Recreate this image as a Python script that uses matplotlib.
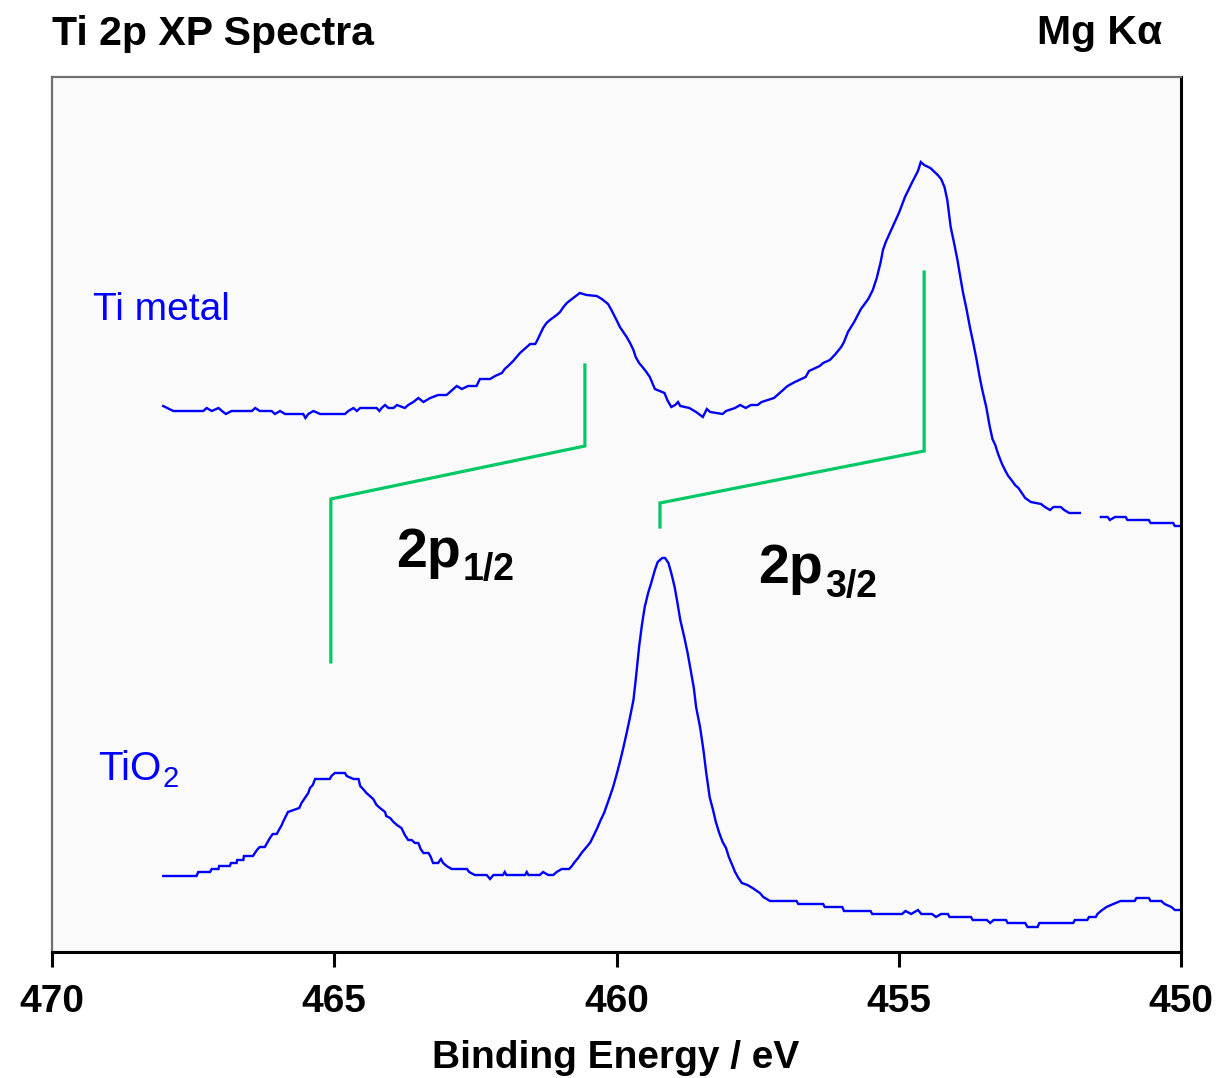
import numpy as np
import matplotlib
matplotlib.use("Agg")
import matplotlib.pyplot as plt

plt.rcParams['font.family'] = ['Liberation Sans', 'DejaVu Sans']

# Ti metal spectrum: binding energy (eV) and intensity (arb. units); NaN = missing readings
ti_metal_ev = [468.03, 467.85, 467.32, 467.26, 467.17, 467.05, 466.99, 466.92, 466.82, 466.46,
               466.40, 466.32, 466.11, 466.05, 465.96, 465.87, 465.55, 465.51, 465.46, 465.37,
               465.25, 464.81, 464.75, 464.66, 464.60, 464.54, 464.25, 464.20, 464.16, 464.10,
               464.04, 463.95, 463.89, 463.75, 463.69, 463.60, 463.51, 463.42, 463.30, 463.16,
               463.01, 462.95, 462.83, 462.74, 462.63, 462.48, 462.42, 462.24, 462.15, 462.03,
               461.98, 461.92, 461.83, 461.71, 461.59, 461.53, 461.44, 461.41, 461.36, 461.30,
               461.24, 461.18, 461.06, 461.00, 460.94, 460.88, 460.79, 460.65, 460.53, 460.35,
               460.26, 460.15, 460.09, 460.00, 459.94, 459.88, 459.82, 459.76, 459.70, 459.66,
               459.60, 459.54, 459.47, 459.41, 459.32, 459.15, 459.10, 459.03, 458.96, 458.91,
               458.87, 458.71, 458.59, 458.47, 458.40, 458.34, 458.12, 458.06, 457.90, 457.81,
               457.71, 457.62, 457.50, 457.43, 457.21, 457.09, 456.97, 456.84, 456.65, 456.59,
               456.40, 456.34, 456.22, 456.12, 456.02, 455.97, 455.90, 455.79, 455.67, 455.54,
               455.46, 455.39, 455.32, 455.28, 455.23, 455.11, 454.99, 454.89, 454.76, 454.66,
               454.61, 454.55, 454.44, 454.31, 454.25, 454.19, 454.14, 454.08, 454.02, 453.96,
               453.91, 453.86, 453.80, 453.74, 453.68, 453.62, 453.57, 453.52, 453.45, 453.39,
               453.34, 453.29, 453.24, 453.17, 453.11, 453.06, 452.99, 452.94, 452.88, 452.82,
               452.76, 452.66, 452.48, 452.41, 452.32, 452.26, 452.13, 452.07, 451.98, 451.79,
               451.60, 451.42, 451.30, 451.26, 451.17, 450.98, 450.95, 450.57, 450.54, 450.14,
               450.11, 450.00]
ti_metal_counts = [546, 541, 541, 544, 541, 544, 541, 538, 541, 541,
                   544, 541, 541, 538, 541, 538, 538, 534, 538, 541,
                   538, 538, 541, 544, 541, 544, 544, 541, 544, 547,
                   544, 544, 547, 544, 547, 550, 554, 550, 554, 557,
                   557, 560, 566, 563, 566, 566, 573, 573, 576, 579,
                   583, 586, 591, 599, 605, 608, 608, 611, 617, 624,
                   629, 632, 637, 640, 645, 649, 653, 659, 657, 656,
                   653, 648, 642, 632, 625, 620, 615, 609, 602, 595,
                   589, 585, 580, 575, 563, 559, 552, 545, 547, 550,
                   546, 544, 540, 535, 543, 540, 538, 541, 544, 547,
                   544, 547, 547, 550, 554, 560, 566, 570, 575, 581,
                   586, 589, 592, 598, 605, 610, 620, 630, 643, 653,
                   662, 674, 690, 702, 710, 725, 740, 755, 770, 781,
                   790, 787, 784, 777, 773, 765, 752, 725, 709, 692,
                   675, 659, 643, 625, 609, 592, 576, 562, 545, 526,
                   513, 507, 498, 488, 481, 476, 471, 467, 464, 459,
                   454, 450, 448, 445, 442, 445, 445, 442, 439, 439,
                   np.nan, 435, 435, 432, 435, 435, 432, 432, 429, 429,
                   426, 426]

# TiO2 spectrum
tio2_ev = [468.03, 467.44, 467.41, 467.20, 467.17, 467.05, 467.04, 466.85, 466.83, 466.73,
           466.72, 466.61, 466.60, 466.44, 466.37, 466.32, 466.23, 466.14, 466.09, 466.02,
           465.93, 465.90, 465.82, 465.62, 465.58, 465.52, 465.46, 465.43, 465.38, 465.34,
           465.08, 465.05, 464.99, 464.81, 464.78, 464.66, 464.57, 464.54, 464.49, 464.43,
           464.37, 464.31, 464.25, 464.19, 464.10, 464.08, 464.01, 463.95, 463.89, 463.81,
           463.75, 463.69, 463.63, 463.57, 463.51, 463.47, 463.42, 463.33, 463.29, 463.25,
           463.16, 463.11, 463.07, 463.01, 462.92, 462.65, 462.61, 462.51, 462.30, 462.24,
           462.18, 462.01, 461.98, 461.95, 461.62, 461.59, 461.56, 461.36, 461.30, 461.21,
           461.12, 461.06, 460.97, 460.84, 460.79, 460.74, 460.68, 460.62, 460.56, 460.50,
           460.46, 460.40, 460.34, 460.28, 460.22, 460.17, 460.12, 460.06, 460.00, 459.94,
           459.88, 459.82, 459.76, 459.70, 459.66, 459.60, 459.55, 459.50, 459.44, 459.38,
           459.32, 459.27, 459.19, 459.14, 459.08, 459.03, 458.97, 458.92, 458.87, 458.80,
           458.74, 458.68, 458.63, 458.59, 458.52, 458.46, 458.41, 458.35, 458.29, 458.24,
           458.18, 458.12, 458.06, 458.01, 457.95, 457.90, 457.84, 457.78, 457.68, 457.59,
           457.46, 457.40, 457.28, 456.81, 456.78, 456.34, 456.31, 456.00, 455.97, 455.50,
           455.47, 454.94, 454.88, 454.78, 454.66, 454.60, 454.41, 454.34, 454.25, 454.13,
           454.10, 453.72, 453.69, 453.44, 453.38, 453.32, 453.10, 453.07, 452.76, 452.72,
           452.54, 452.51, 451.91, 451.88, 451.66, 451.63, 451.51, 451.48, 451.42, 451.32,
           451.20, 451.07, 450.82, 450.79, 450.57, 450.54, 450.35, 450.29, 450.17, 450.11,
           450.00]
tio2_counts = [76, 76, 80, 80, 83, 83, 86, 86, 89, 89,
               92, 92, 96, 96, 102, 105, 105, 114, 118, 118,
               127, 131, 140, 144, 149, 154, 159, 164, 167, 173,
               173, 176, 179, 179, 176, 173, 173, 166, 163, 159,
               156, 153, 147, 144, 140, 136, 134, 130, 127, 124,
               117, 112, 112, 109, 109, 103, 99, 99, 95, 89,
               89, 93, 89, 86, 83, 83, 80, 77, 77, 73,
               77, 77, 80, 77, 77, 80, 77, 77, 80, 77,
               77, 80, 83, 83, 86, 90, 94, 99, 103, 107,
               110, 117, 124, 132, 139, 147, 155, 165, 177, 190,
               204, 219, 235, 252, 272, 305, 327, 345, 359, 370,
               382, 390, 394, 394, 389, 379, 365, 349, 332, 315,
               299, 280, 264, 245, 225, 202, 179, 155, 142, 130,
               119, 110, 104, 95, 87, 80, 74, 69, 67, 64,
               59, 55, 51, 51, 48, 48, 45, 45, 41, 41,
               38, 38, 41, 38, 42, 38, 38, 35, 38, 38,
               35, 35, 32, 32, 29, 32, 32, 29, 29, 25,
               25, 29, 29, 32, 32, 35, 35, 38, 41, 45,
               48, 51, 51, 54, 54, 51, 51, 48, 45, 42,
               42]

# Spin-orbit marker brackets (TiO2 peak -> Ti metal peak)
bracket_12_ev = [465.06, 465.06, 460.56, 460.56]
bracket_12_counts = [290, 453, 506, 587]
bracket_32_ev = [459.23, 459.23, 454.55, 454.55]
bracket_32_counts = [425, 449, 501, 680]

xticks = [470, 465, 460, 455, 450]

fig = plt.figure(figsize=(12.16, 10.78), dpi=100)
fig.patch.set_facecolor('white')
ax = fig.add_axes([52 / 1216, 126 / 1078, 1129 / 1216, 875 / 1078])
ax.set_facecolor('#fafafa')

ax.plot(ti_metal_ev, ti_metal_counts, color='#0000ff', lw=1.7, solid_joinstyle='miter')
ax.plot(tio2_ev, tio2_counts, color='#0000ff', lw=1.7, solid_joinstyle='miter')
ax.plot(bracket_12_ev, bracket_12_counts, color='#00c864', lw=2.3, solid_joinstyle='miter')
ax.plot(bracket_32_ev, bracket_32_counts, color='#00c864', lw=2.3, solid_joinstyle='miter')

ax.set_xlim(470, 450)
ax.set_ylim(0, 875)
ax.set_xticks(xticks)
ax.set_xticklabels([str(t) for t in xticks])
ax.set_yticks([])
ax.tick_params(axis='x', direction='out', length=11, width=2.2, color='black',
               pad=12, labelsize=28)
for lab in ax.get_xticklabels():
    lab.set_fontweight('bold')

ax.spines['left'].set_color('#707070')
ax.spines['left'].set_linewidth(1.6)
ax.spines['top'].set_color('#707070')
ax.spines['top'].set_linewidth(1.6)
ax.spines['right'].set_color('black')
ax.spines['right'].set_linewidth(2.2)
ax.spines['bottom'].set_color('black')
ax.spines['bottom'].set_linewidth(2.2)

# Series labels
ax.text(0.0363, 0.7223, 'Ti metal', transform=ax.transAxes, color='#0000ff',
        fontsize=28, va='baseline', ha='left')
ax.text(0.0407, 0.1966, 'TiO', transform=ax.transAxes, color='#0000ff',
        fontsize=29, va='baseline', ha='left')
ax.text(0.0975, 0.1886, '2', transform=ax.transAxes, color='#0000ff',
        fontsize=21, va='baseline', ha='left')

# Spin-orbit component labels
ax.text(0.3047, 0.440, '2p', transform=ax.transAxes, fontsize=40,
        fontweight='bold', va='baseline', ha='left')
ax.text(0.364, 0.425, '1/2', transform=ax.transAxes, fontsize=27,
        fontweight='bold', va='baseline', ha='left')
ax.text(0.6253, 0.4217, '2p', transform=ax.transAxes, fontsize=40,
        fontweight='bold', va='baseline', ha='left')
ax.text(0.6847, 0.4057, '3/2', transform=ax.transAxes, fontsize=27,
        fontweight='bold', va='baseline', ha='left')

# Header and axis title
fig.text(52 / 1216, 1 - 45 / 1078, 'Ti 2p XP Spectra', fontsize=29.5,
         fontweight='bold', va='baseline', ha='left')
fig.text(1162 / 1216, 1 - 44 / 1078, 'Mg K\u03b1', fontsize=29.5,
         fontweight='bold', va='baseline', ha='right')
fig.text(616 / 1216, 1 - 1068 / 1078, 'Binding Energy / eV', fontsize=28,
         fontweight='bold', va='baseline', ha='center')

fig.savefig('out.png', dpi=100)
